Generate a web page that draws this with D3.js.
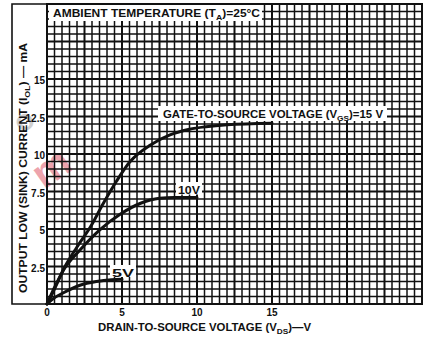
<!DOCTYPE html>
<html>
<head>
<meta charset="utf-8">
<script src="https://cdn.jsdelivr.net/npm/d3@7/dist/d3.min.js"></script>
<style>
  html, body { margin: 0; padding: 0; background: #fff; }
  svg text { font-family: "Liberation Sans", Arial, sans-serif; font-weight: bold; fill: #111; }
</style>
</head>
<body>
<div id="graphArea"></div>
<script>
// VDS (V) vs IOL (mA) for each gate voltage
var vds15 = [0, 0.5, 1.2, 2.0, 2.9, 3.75, 4.64, 5.5, 6.9, 8.2, 9.5, 10.6, 12, 15];
var iol15 = [0, 1.0, 2.5, 3.8, 5.15, 6.7, 8.2, 9.45, 10.6, 11.27, 11.65, 11.82, 11.95, 12.05];

var vds10 = [0, 0.5, 1.1, 2.2, 3.5, 4.9, 6.2, 7.5, 8.5, 10];
var iol10 = [0, 1.1, 2.27, 3.6, 4.93, 6.0, 6.7, 7.05, 7.1, 7.1];

var vds5 = [0, 0.4, 1.1, 2.2, 3.3, 4.3, 5.0];
var iol5 = [0, 0.35, 0.75, 1.25, 1.5, 1.62, 1.65];

var xTicks = [0, 5, 10, 15];
var yTicks = [2.5, 5, 7.5, 10, 12.5, 15];

var width = 430, height = 342;
var margin = { top: 4, left: 47, bottom: 38, right: 8 };

var svg = d3.select("#graphArea").append("svg")
  .attr("width", width)
  .attr("height", height);

var x = d3.scaleLinear().domain([0, 25]).range([margin.left, width - margin.right]);
var y = d3.scaleLinear().domain([0, 20]).range([height - margin.bottom, margin.top]);

// watermark smudge from the scan
svg.append("text")
  .attr("transform", "translate(44,190) rotate(-35)")
  .style("font-size", "42px")
  .style("fill", "#e0586a")
  .style("opacity", 0.55)
  .text("m");
svg.append("text")
  .attr("transform", "translate(22,134) rotate(-35)")
  .style("font-size", "30px")
  .style("fill", "#999")
  .style("opacity", 0.45)
  .text("o");

// grid, every 0.5 unit, heavier every 2.5
var gx = d3.range(0, 25.001, 0.5);
var gy = d3.range(0, 20.001, 0.5);
svg.append("g").selectAll("line").data(gx).enter().append("line")
  .attr("x1", function (d) { return x(d); }).attr("x2", function (d) { return x(d); })
  .attr("y1", y(0)).attr("y2", y(20))
  .attr("stroke", "#111")
  .attr("stroke-width", function (d) { return d % 2.5 === 0 ? 2 : 1.5; });
svg.append("g").selectAll("line").data(gy).enter().append("line")
  .attr("y1", function (d) { return y(d); }).attr("y2", function (d) { return y(d); })
  .attr("x1", x(0)).attr("x2", x(25))
  .attr("stroke", "#111")
  .attr("stroke-width", function (d) { return d % 2.5 === 0 ? 2 : 1.5; });

// frame around plot and y-label
svg.append("rect")
  .attr("x", x(0)).attr("y", y(20))
  .attr("width", x(25) - x(0)).attr("height", y(0) - y(20))
  .attr("fill", "none").attr("stroke", "#111").attr("stroke-width", 2);
svg.append("path")
  .attr("d", "M" + x(0) + "," + y(20) + "H12V" + y(0) + "H" + x(0))
  .attr("fill", "none").attr("stroke", "#111").attr("stroke-width", 1.6);

// white label boxes; p[1] marks a subscript part
function label(bx, by, bw, bh, tx, ty, len, size, parts) {
  svg.append("rect").attr("x", bx).attr("y", by).attr("width", bw).attr("height", bh).attr("fill", "#fff");
  var t = svg.append("text").attr("x", tx).attr("y", ty)
    .attr("textLength", len).attr("lengthAdjust", "spacingAndGlyphs")
    .style("font-size", size + "px");
  subParts(t, parts, size);
}

function subParts(t, parts, size) {
  var down = false;
  parts.forEach(function (p) {
    var s = t.append("tspan").text(p[0]);
    if (p[1]) { s.attr("dy", 2.5).style("font-size", (size - 3) + "px"); down = true; }
    else if (down) { s.attr("dy", -2.5); down = false; }
  });
}

label(49, 5, 213, 16, 53, 17, 207, 11,
  [["AMBIENT TEMPERATURE (T"], ["A", 1], [")=25\u00b0C"]]);
label(158, 106, 229, 15, 163, 118, 220, 11,
  [["GATE-TO-SOURCE VOLTAGE (V"], ["GS", 1], [")=15 V"]]);
label(176, 182, 26, 12.5, 178, 194, 22, 11, [["10V"]]);
label(110, 265, 26, 12, 112, 276.5, 22, 11, [["5V"]]);

// curves
var line = d3.line()
  .x(function (d) { return x(d[0]); })
  .y(function (d) { return y(d[1]); })
  .curve(d3.curveMonotoneX);

[[vds15, iol15], [vds10, iol10], [vds5, iol5]].forEach(function (s) {
  svg.append("path")
    .attr("d", line(d3.zip(s[0], s[1])))
    .attr("fill", "none")
    .attr("stroke", "#111")
    .attr("stroke-width", 3)
    .attr("stroke-linecap", "round");
});

// tick labels
svg.append("g").selectAll("text").data(xTicks).enter().append("text")
  .attr("x", function (d) { return x(d); })
  .attr("y", 316)
  .attr("text-anchor", "middle")
  .style("font-size", "10px")
  .text(function (d) { return d; });

svg.append("g").selectAll("text").data(yTicks).enter().append("text")
  .attr("x", 45)
  .attr("y", function (d) { return y(d) + 5; })
  .attr("text-anchor", "end")
  .style("font-size", "10px")
  .text(function (d) { return d; });

// axis titles
var xt = svg.append("text").attr("x", 98).attr("y", 331)
  .attr("textLength", 213).attr("lengthAdjust", "spacingAndGlyphs")
  .style("font-size", "11px");
subParts(xt, [["DRAIN-TO-SOURCE VOLTAGE (V"], ["DS", 1], [")\u2014V"]], 11);

var yt = svg.append("text")
  .attr("transform", "translate(27,293) rotate(-90)")
  .attr("textLength", 250).attr("lengthAdjust", "spacingAndGlyphs")
  .style("font-size", "11px");
subParts(yt, [["OUTPUT LOW (SINK) CURRENT (I"], ["OL", 1], [") \u2014 mA"]], 11);
</script>
</body>
</html>
